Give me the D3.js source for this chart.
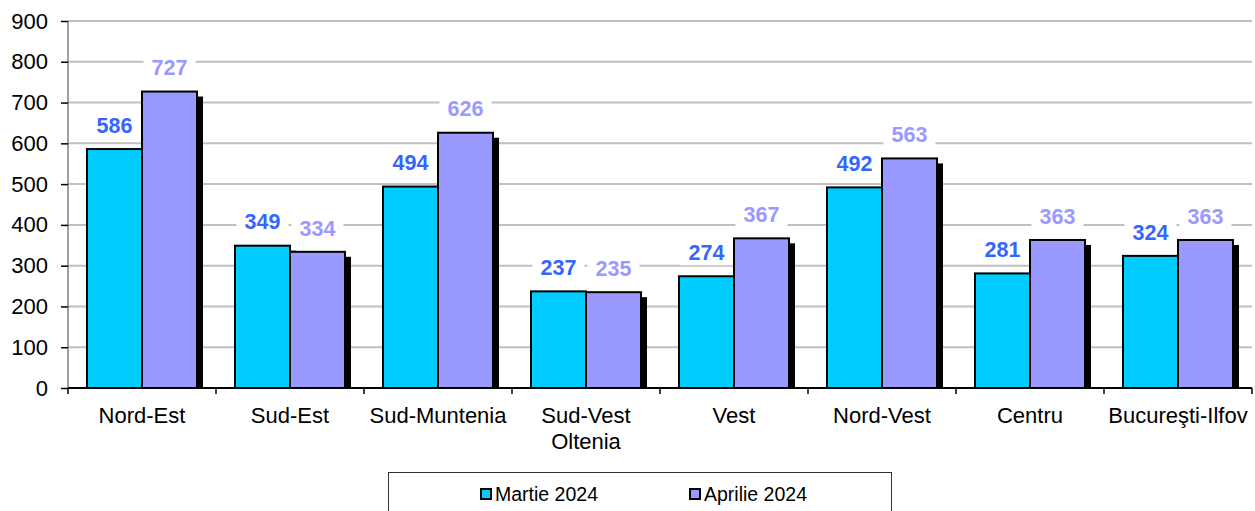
<!DOCTYPE html>
<html>
<head>
<meta charset="utf-8">
<script src="https://cdn.jsdelivr.net/npm/d3@7"></script>
<style>
  body { margin: 0; background: #fff; }
  text { font-family: "Liberation Sans", Arial, sans-serif; }
</style>
</head>
<body>
<div id="container"></div>
<script>
var regions = ["Nord-Est", "Sud-Est", "Sud-Muntenia", "Sud-Vest\nOltenia", "Vest", "Nord-Vest", "Centru", "Bucureşti-Ilfov"];
var seriesNames = ["Martie 2024", "Aprilie 2024"];
var martie = [586, 349, 494, 237, 274, 492, 281, 324];
var aprilie = [727, 334, 626, 235, 367, 563, 363, 363];
var yTicks = [0, 100, 200, 300, 400, 500, 600, 700, 800, 900];

var fills = ["#00ccff", "#9999ff"];
var labelColors = ["#3366ff", "#9999ff"];

var W = 1255, H = 511;
var m = { left: 68, right: 1252, top: 21, bottom: 388 };

var svg = d3.select("#container")
  .append("svg")
  .attr("width", W)
  .attr("height", H);

var y = d3.scaleLinear().domain([0, 900]).range([m.bottom, m.top]);
var x0 = d3.scaleBand().domain(regions).range([m.left, m.right]);
var x1 = d3.scaleBand().domain(seriesNames).range([19, x0.bandwidth() - 19]);

// gridlines
svg.append("g")
  .selectAll("line")
  .data(yTicks.slice(1))
  .enter().append("line")
    .attr("x1", m.left)
    .attr("x2", m.right)
    .attr("y1", function(d) { return y(d); })
    .attr("y2", function(d) { return y(d); })
    .attr("stroke", "#c0c0c0")
    .attr("stroke-width", 2);

var rows = regions.map(function(r, i) {
  return { region: r, values: [martie[i], aprilie[i]] };
});

var groups = svg.selectAll(".grp")
  .data(rows)
  .enter().append("g")
    .classed("grp", true)
    .attr("transform", function(d) { return "translate(" + x0(d.region) + ",0)"; });

// shadows
groups.selectAll(".shadow")
  .data(function(d) { return d.values; })
  .enter().append("rect")
    .classed("shadow", true)
    .attr("x", function(d, i) { return x1(seriesNames[i]) + 6; })
    .attr("y", function(d) { return y(d) + 5; })
    .attr("width", x1.bandwidth())
    .attr("height", function(d) { return m.bottom - y(d) - 5; })
    .attr("fill", "#000");

groups.selectAll(".bar")
  .data(function(d) { return d.values; })
  .enter().append("rect")
    .classed("bar", true)
    .attr("x", function(d, i) { return x1(seriesNames[i]); })
    .attr("y", function(d) { return y(d); })
    .attr("width", x1.bandwidth())
    .attr("height", function(d) { return m.bottom - y(d); })
    .attr("fill", function(d, i) { return fills[i]; })
    .attr("stroke", "#000")
    .attr("stroke-width", 2);

// value labels with white background
var lbl = groups.selectAll(".lbl")
  .data(function(d) { return d.values; })
  .enter().append("g")
    .classed("lbl", true)
    .attr("transform", function(d, i) {
      return "translate(" + (x1(seriesNames[i]) + x1.bandwidth() / 2) + "," + (y(d) - 24) + ")";
    });
lbl.append("rect")
  .attr("x", -26).attr("y", -13)
  .attr("width", 52).attr("height", 26)
  .attr("fill", "#fff");
lbl.append("text")
  .attr("text-anchor", "middle")
  .attr("dy", "0.36em")
  .style("font-size", "21.5px")
  .style("font-weight", "bold")
  .attr("fill", function(d, i) { return labelColors[i]; })
  .text(function(d) { return d; });

// y axis
var yAxis = svg.append("g")
  .attr("transform", "translate(" + m.left + ",0)")
  .call(d3.axisLeft(y).tickValues(yTicks).tickSize(7).tickPadding(13).tickFormat(d3.format("d")));
yAxis.select(".domain").attr("stroke", "#808080").attr("stroke-width", 1.5).attr("d", "M0," + m.top + "V" + m.bottom);
yAxis.selectAll(".tick line").attr("stroke", "#000").attr("stroke-width", 1.5);
yAxis.selectAll(".tick text").style("font-size", "22px").attr("fill", "#000");

// x axis
var xAxis = svg.append("g").attr("transform", "translate(0," + m.bottom + ")");
xAxis.append("line")
  .attr("x1", m.left).attr("x2", m.right)
  .attr("stroke", "#000").attr("stroke-width", 2);
xAxis.selectAll(".xt")
  .data(regions.concat([null]))
  .enter().append("line")
    .attr("x1", function(d, i) { return m.left + i * x0.step(); })
    .attr("x2", function(d, i) { return m.left + i * x0.step(); })
    .attr("y1", 0).attr("y2", 6)
    .attr("stroke", "#000").attr("stroke-width", 1.5);
var xl = xAxis.selectAll(".xl")
  .data(regions)
  .enter().append("text")
    .attr("text-anchor", "middle")
    .attr("x", function(d) { return x0(d) + x0.bandwidth() / 2; })
    .attr("y", 35)
    .style("font-size", "22px")
    .attr("fill", "#000");
xl.each(function(d) {
  var t = d3.select(this);
  d.split("\n").forEach(function(line, k) {
    t.append("tspan")
      .attr("x", t.attr("x"))
      .attr("dy", k === 0 ? 0 : 26)
      .text(line);
  });
});

// legend
var legend = svg.append("g").attr("transform", "translate(388,472)");
legend.append("rect")
  .attr("x", 0.5).attr("y", 0.5)
  .attr("width", 503).attr("height", 50)
  .attr("fill", "#fff")
  .attr("stroke", "#333").attr("stroke-width", 1);
var legendItem = legend.selectAll(".legendItem")
  .data(seriesNames)
  .enter().append("g")
    .classed("legendItem", true)
    .attr("transform", function(d, i) { return "translate(" + (93 + i * 209) + ",17)"; });
legendItem.append("rect")
  .attr("width", 10).attr("height", 10)
  .attr("fill", function(d, i) { return fills[i]; })
  .attr("stroke", "#000").attr("stroke-width", 2);
legendItem.append("text")
  .attr("x", 14).attr("y", 12)
  .style("font-size", "19.5px")
  .attr("fill", "#000")
  .text(function(d) { return d; });
</script>
</body>
</html>
